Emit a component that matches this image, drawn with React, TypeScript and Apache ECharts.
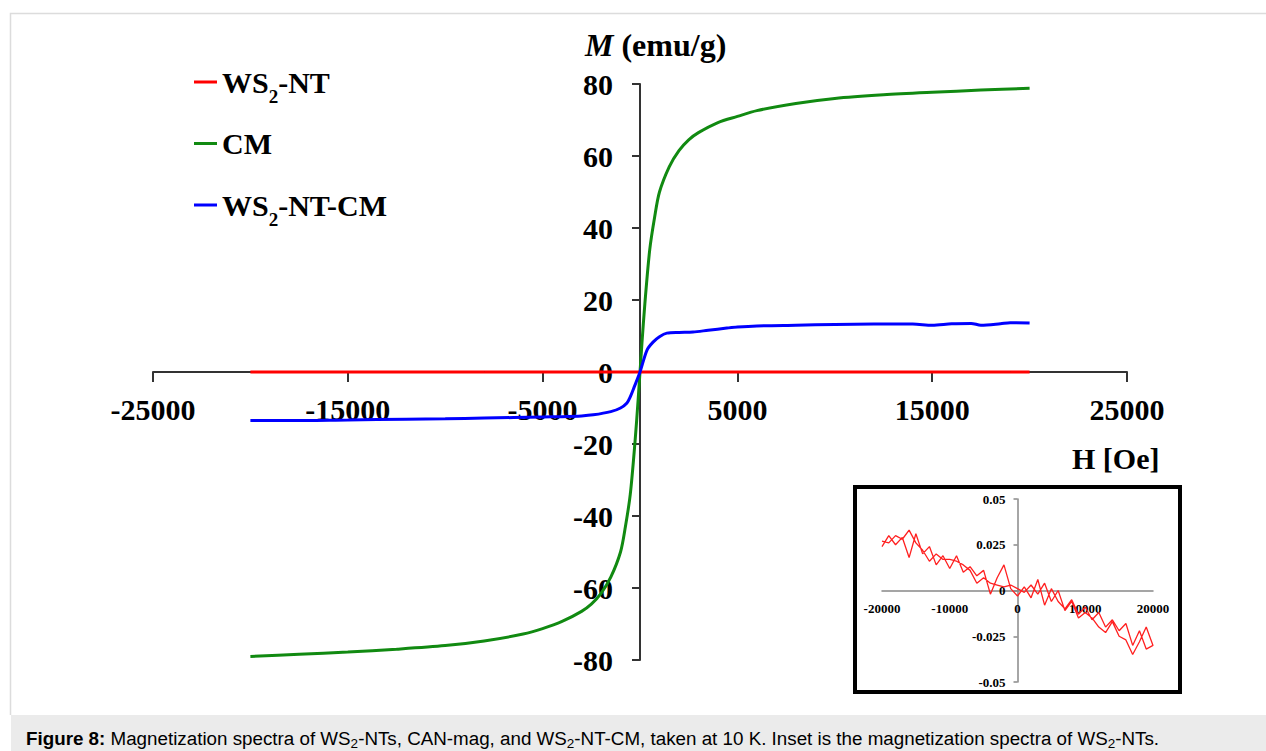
import React, { useEffect, useRef } from "react";
import * as echarts from "echarts";

// Main chart data
const cmH = [-20000, -17500, -15000, -12500, -10000, -8000, -6000, -5000, -4000, -3000, -2500, -2000, -1500, -1000, -750, -500, -250, -100, 0, 100, 250, 500, 750, 1000, 1500, 2000, 2500, 3000, 4000, 5000, 6000, 8000, 10000, 12500, 15000, 17500, 20000];
const cmM = [-79.0, -78.4, -77.8, -77.0, -76.0, -74.7, -72.8, -71.3, -69.3, -66.5, -64.5, -61.5, -57.0, -50.0, -43.0, -34.0, -19.0, -8.0, 0, 8.0, 19.0, 34.0, 43.0, 50.0, 57.0, 61.5, 64.5, 66.5, 69.3, 71.0, 72.6, 74.6, 76.0, 77.0, 77.7, 78.3, 78.8];

const ntcmH = [-20000, -18000, -15000, -12000, -10000, -8000, -5000, -4000, -3000, -2400, -1500, -1000, -670, -500, -300, 0, 360, 670, 1000, 1380, 2000, 2720, 3500, 4460, 5000, 6000, 8000, 10000, 12000, 14000, 15000, 16000, 17000, 17500, 18500, 19000, 20000];
const ntcmM = [-13.5, -13.5, -13.3, -13.1, -13.0, -12.8, -12.5, -12.4, -12.2, -11.9, -11.0, -10.0, -8.6, -6.9, -4.2, 0, 6.1, 8.3, 9.8, 10.8, 11.0, 11.1, 11.6, 12.2, 12.5, 12.8, 13.0, 13.2, 13.3, 13.3, 13.0, 13.4, 13.5, 13.0, 13.4, 13.7, 13.6];

// WS2-NT data (also shown in the inset): forward and return branches
const ntH = [
  -20000, -19000, -18000, -17000, -16000, -15000, -14000, -13000, -12000, -11000, -10000,
  -9000, -8000, -7000, -6000, -5000, -4000, -3000, -2000, -1000, 0,
  1000, 2000, 3000, 4000, 5000, 6000, 7000, 8000, 9000, 10000,
  11000, 12000, 13000, 14000, 15000, 16000, 17000, 18000, 19000, 20000,
  19000, 18000, 17000, 16000, 15000, 14000, 13000, 12000, 11000, 10000,
  9000, 8000, 7000, 6000, 5000, 4000, 3000, 2000, 1000, 0,
  -1000, -2000, -3000, -4000, -5000, -6000, -7000, -8000, -9000, -10000,
  -11000, -12000, -13000, -14000, -15000, -16000, -17000, -18000, -19000, -20000,
];
const ntM = [
  0.024, 0.030, 0.025, 0.029, 0.018, 0.031, 0.020, 0.024, 0.014, 0.019, 0.012,
  0.019, 0.010, 0.013, 0.008, 0.011, -0.002, 0.007, 0.014, 0.001, -0.003,
  0.002, -0.004, 0.006, -0.008, 0.001, -0.006, -0.010, -0.005, -0.013, -0.009,
  -0.016, -0.012, -0.020, -0.016, -0.022, -0.018, -0.030, -0.022, -0.032, -0.030,
  -0.020, -0.028, -0.035, -0.027, -0.025, -0.017, -0.023, -0.020, -0.015, -0.012,
  -0.015, -0.006, -0.011, 0.000, -0.006, 0.004, -0.002, 0.003, -0.001, 0.001,
  0.003, 0.002, 0.003, 0.004, 0.007, 0.004, 0.011, 0.014, 0.016, 0.017,
  0.017, 0.020, 0.016, 0.022, 0.026, 0.033, 0.028, 0.030, 0.026, 0.027,
];

const seriesNames = ["WS2-NT", "CM", "WS2-NT-CM"];
const legendLabels: Record<string, string> = {
  "WS2-NT": "{b|WS}{s|2}{b|-NT}",
  CM: "{b|CM}",
  "WS2-NT-CM": "{b|WS}{s|2}{b|-NT-CM}",
};
const caption =
  "{fb|Figure 8:} Magnetization spectra of WS{fs|2}-NTs, CAN-mag, and WS{fs|2}-NT-CM, taken at 10 K. Inset is the magnetization spectra of WS{fs|2}-NTs.";

const zip = (xs: number[], ys: number[]) => xs.map((x, i) => [x, ys[i]]);
const plain = (v: number) => String(v);

const SERIF = "'Liberation Serif', 'Times New Roman', serif";
const SANS = "'Liberation Sans', Arial, sans-serif";

export default function App() {
  const ref = useRef<HTMLDivElement>(null);
  useEffect(() => {
    if (!ref.current) return;
    const chart = echarts.init(ref.current, null, { renderer: "svg" });
    const axisColor = "#333";
    const bigLabel = { fontFamily: SERIF, fontWeight: "bold" as const, fontSize: 30, color: "#000" };
    const smallLabel = { fontFamily: SERIF, fontWeight: "bold" as const, fontSize: 13, color: "#000" };
    chart.setOption({
      animation: false,
      backgroundColor: "#fff",
      grid: [
        { left: 153, top: 84, width: 974, height: 576 },
        { left: 882, top: 499, width: 271, height: 183 },
      ],
      legend: {
        data: seriesNames,
        orient: "vertical",
        left: 189,
        top: 48,
        icon: "rect",
        itemWidth: 23,
        itemHeight: 3,
        itemGap: 3.5,
        formatter: (name: string) => legendLabels[name] || name,
        textStyle: {
          ...bigLabel,
          rich: {
            b: { fontFamily: SERIF, fontWeight: "bold", fontSize: 30, color: "#000", lineHeight: 30, padding: [14, 0, 14, 0] },
            s: { fontFamily: SERIF, fontWeight: "bold", fontSize: 19, color: "#000", lineHeight: 30, padding: [28, 0, 0, 0] },
          },
        },
      },
      xAxis: [
        {
          type: "value",
          gridIndex: 0,
          position: "bottom",
          offset: -288,
          min: -25000,
          max: 25000,
          interval: 10000,
          axisLine: { onZero: false, lineStyle: { color: axisColor, width: 2 } },
          axisTick: { show: true, length: 10, lineStyle: { color: axisColor, width: 2 } },
          axisLabel: { ...bigLabel, margin: 22, formatter: plain, showMinLabel: true, showMaxLabel: true },
          splitLine: { show: false },
        },
        {
          type: "value",
          gridIndex: 1,
          position: "bottom",
          offset: -91.5,
          min: -20000,
          max: 20000,
          interval: 10000,
          axisLine: { onZero: false, lineStyle: { color: "#888", width: 1.5 } },
          axisTick: { show: false },
          axisLabel: { ...smallLabel, margin: 11, formatter: plain, showMinLabel: true, showMaxLabel: true },
          splitLine: { show: false },
        },
      ],
      yAxis: [
        {
          type: "value",
          gridIndex: 0,
          position: "left",
          offset: -487,
          min: -80,
          max: 80,
          interval: 20,
          axisLine: { onZero: false, lineStyle: { color: axisColor, width: 2 } },
          axisTick: { show: true, length: 8, lineStyle: { color: axisColor, width: 2 } },
          axisLabel: { ...bigLabel, margin: 27, formatter: plain, showMinLabel: true, showMaxLabel: true },
          splitLine: { show: false },
        },
        {
          type: "value",
          gridIndex: 1,
          position: "left",
          offset: -135.5,
          min: -0.05,
          max: 0.05,
          interval: 0.025,
          axisLine: { onZero: false, lineStyle: { color: "#888", width: 1.5 } },
          axisTick: { show: true, length: 4, lineStyle: { color: "#888", width: 1.5 } },
          axisLabel: { ...smallLabel, margin: 12, formatter: plain, showMinLabel: true, showMaxLabel: true },
          splitLine: { show: false },
        },
      ],
      series: [
        {
          name: "WS2-NT",
          type: "line",
          xAxisIndex: 0,
          yAxisIndex: 0,
          data: zip(ntH, ntM).slice(0, 41),
          symbol: "none",
          color: "#ff0000",
          lineStyle: { color: "#ff0000", width: 3 },
          z: 3,
        },
        {
          name: "CM",
          type: "line",
          xAxisIndex: 0,
          yAxisIndex: 0,
          data: zip(cmH, cmM),
          symbol: "none",
          smooth: 0.3,
          color: "#118a11",
          lineStyle: { color: "#118a11", width: 3 },
          z: 2,
        },
        {
          name: "WS2-NT-CM",
          type: "line",
          xAxisIndex: 0,
          yAxisIndex: 0,
          data: zip(ntcmH, ntcmM),
          symbol: "none",
          smooth: 0.3,
          color: "#0000ff",
          lineStyle: { color: "#0000ff", width: 3 },
          z: 4,
        },
        {
          name: "WS2-NT inset",
          type: "line",
          xAxisIndex: 1,
          yAxisIndex: 1,
          data: zip(ntH, ntM),
          symbol: "none",
          color: "#ff2020",
          lineStyle: { color: "#ff2020", width: 1.3 },
          z: 5,
        },
      ],
      graphic: [
        {
          type: "polyline",
          silent: true,
          shape: { points: [[10.5, 715], [10.5, 13.5], [1266, 13.5]] },
          style: { stroke: "#dcdcdc", lineWidth: 1.5, fill: null },
        },
        {
          type: "rect",
          silent: true,
          shape: { x: 11, y: 715, width: 1255, height: 36 },
          style: { fill: "#ebebeb" },
        },
        {
          type: "text",
          silent: true,
          x: 26,
          y: 738,
          style: {
            text: caption,
            fontFamily: SANS,
            fontSize: 18.8,
            fill: "#000",
            verticalAlign: "middle",
            rich: {
              fb: { fontFamily: SANS, fontSize: 18.8, fontWeight: "bold", fill: "#000", lineHeight: 22 },
              fs: { fontFamily: SANS, fontSize: 13.5, fill: "#000", lineHeight: 22, padding: [10, 0, 0, 0] },
            },
          },
        },
        {
          type: "rect",
          silent: true,
          shape: { x: 855, y: 487, width: 325, height: 205 },
          style: { fill: "none", stroke: "#000", lineWidth: 4 },
        },
        {
          type: "text",
          silent: true,
          x: 585,
          y: 45,
          style: {
            text: "{i|M} {b|(emu/g)}",
            fontFamily: SERIF,
            fontSize: 32,
            fontWeight: "bold",
            fill: "#000",
            verticalAlign: "middle",
            rich: {
              i: { fontFamily: SERIF, fontSize: 32, fontWeight: "bold", fontStyle: "italic", fill: "#000" },
              b: { fontFamily: SERIF, fontSize: 32, fontWeight: "bold", fill: "#000" },
            },
          },
        },
        {
          type: "text",
          silent: true,
          x: 1072,
          y: 458,
          style: {
            text: "H [Oe]",
            fontFamily: SERIF,
            fontSize: 30,
            fontWeight: "bold",
            fill: "#000",
            verticalAlign: "middle",
          },
        },
      ],
    });
    return () => chart.dispose();
  }, []);
  return (
    <div
      ref={ref}
      style={{ position: "absolute", left: 0, top: 0, width: 1266, height: 751, background: "#fff" }}
    />
  );
}
